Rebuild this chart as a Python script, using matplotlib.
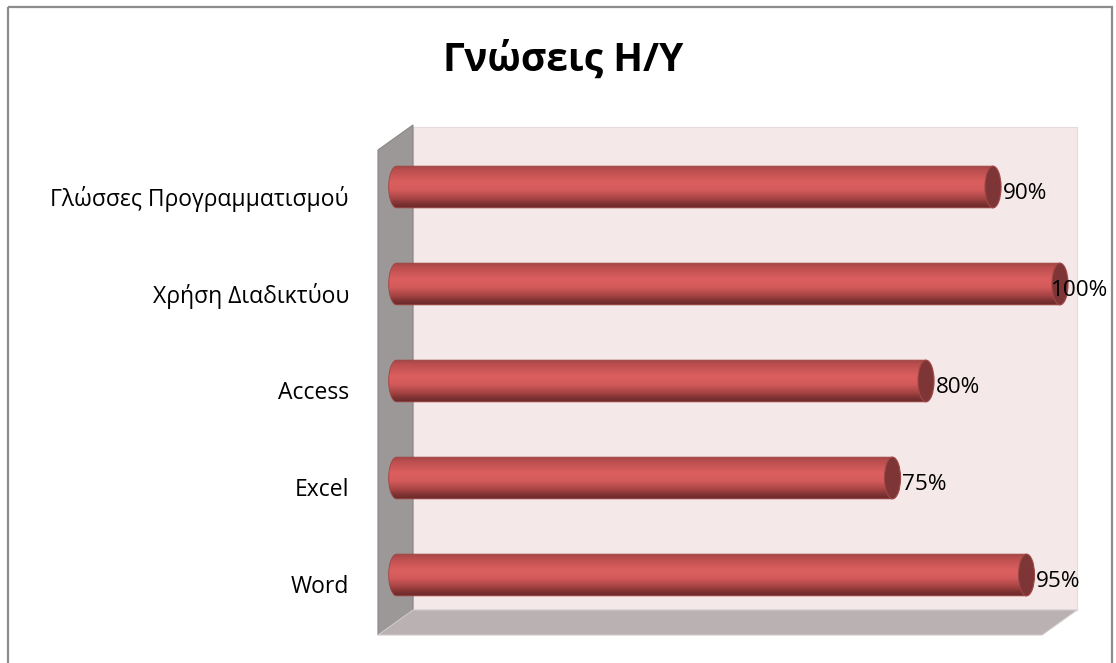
import numpy as np
import matplotlib
matplotlib.use("Agg")
import matplotlib.pyplot as plt
from matplotlib.patches import Polygon, Rectangle, Ellipse, PathPatch
from matplotlib.path import Path
import matplotlib.colors as mcolors

categories = ["Word", "Excel", "Access", "Χρήση Διαδικτύου", "Γλώσσες Προγραμματισμού"]
values = [95, 75, 80, 100, 90]
labels = ["95%", "75%", "80%", "100%", "90%"]
title = "Γνώσεις Η/Υ"

W, H = 1116, 663
fig = plt.figure(figsize=(W / 100, H / 100), dpi=100)
plt.rcParams['font.family'] = ['Open Sans', 'DejaVu Sans']

# background axes for decoration (walls, border)
bg = fig.add_axes([0, 0, 1, 1], zorder=0)
bg.set_xlim(0, W)
bg.set_ylim(H, 0)
bg.axis("off")

bg.add_patch(Rectangle((8, 7), 1112 - 8, 700, fill=False,
                       edgecolor="#8c8c8c", linewidth=1.6))
back = [(413, 127), (1077, 127), (1077, 610), (413, 610)]
side = [(378, 150), (413, 125), (413, 610), (378, 635)]
floor = [(413, 610), (1077, 610), (1042, 635), (378, 635)]
bg.add_patch(Polygon(back, closed=True, facecolor="#f5e8e8", edgecolor="#e6dada", linewidth=0.8))
bg.add_patch(Polygon(side, closed=True, facecolor="#9c9898", edgecolor="#8a8686", linewidth=0.8))
bg.add_patch(Polygon(floor, closed=True, facecolor="#bab2b2", edgecolor="#d0caca", linewidth=0.8))

# data axes: x 0..100 -> px 390..1060; axes extended a little on both sides
scale = (1060 - 390) / 100.0
xmin, xmax = -4, 104
x0 = 390 + xmin * scale
x1 = 390 + xmax * scale
y_bot, y_top = 623.5, 138.5
ax = fig.add_axes([x0 / W, 1 - y_bot / H, (x1 - x0) / W, (y_bot - y_top) / H], zorder=1)
ax.set_xlim(xmin, xmax)
ax.set_ylim(-0.5, 4.5)
ax.axis("off")
ax.patch.set_alpha(0)

stops = [(0.0, "#a44545"), (0.1, "#bb4e4e"), (0.38, "#dc5f5f"), (0.58, "#d35a5a"),
         (0.78, "#a44343"), (0.9, "#7e3232"), (1.0, "#6a2a2a")]
cmap = mcolors.LinearSegmentedColormap.from_list("cyl", stops)
grad = np.linspace(0, 1, 256).reshape(-1, 1)

h = 0.43
ew = 2.4
lc = 1.0  # centre of the rounded left end
for i, (v, lab) in enumerate(zip(values, labels)):
    yc = i
    verts_top = [(lc, yc + h / 2), (v, yc + h / 2), (v, yc - h / 2), (lc, yc - h / 2)]
    t = np.linspace(-np.pi / 2, np.pi / 2, 40)
    left = [(lc - ew / 2 * np.cos(a), yc + h / 2 * np.sin(a)) for a in t]
    verts = verts_top + left[1:] + [verts_top[0]]
    codes = [Path.MOVETO] + [Path.LINETO] * (len(verts) - 2) + [Path.CLOSEPOLY]
    clip = PathPatch(Path(verts, codes), facecolor="none", edgecolor="#a04444",
                     linewidth=0.6, zorder=3)
    ax.add_patch(clip)
    im = ax.imshow(grad, cmap=cmap, extent=[-2, v, yc - h / 2, yc + h / 2],
                   aspect="auto", origin="upper", zorder=2, interpolation="bilinear")
    im.set_clip_path(clip)
    ax.add_patch(Ellipse((v, yc), ew, h, facecolor="#7e3535",
                         edgecolor="#a04747", linewidth=0.8, zorder=4))
    lx = min(v + 1.4, 98.6)
    ax.text(lx, yc - 0.07, lab, ha="left", va="center", fontsize=16.2,
            color="#000000", zorder=5, clip_on=False)
    fig.text(349 / W, 1 - (575 - 97 * i + 12) / H, categories[i], ha="right",
             va="center", fontsize=16.5, color="#000000", zorder=3)

fig.text(563 / W, 1 - 60 / H, title, ha="center", va="center", fontsize=28,
         fontweight="bold", color="#000000", zorder=3)

fig.savefig("out.png", dpi=100)
